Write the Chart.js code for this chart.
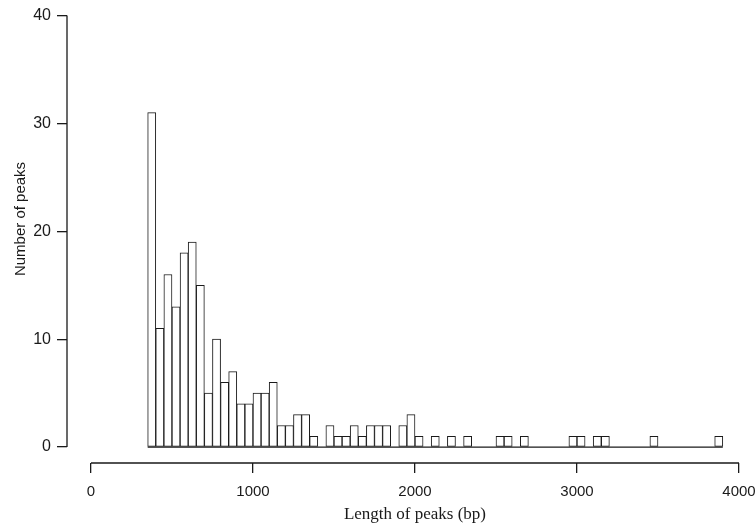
<!DOCTYPE html>
<html>
<head>
<meta charset="utf-8">
<script src="https://cdn.jsdelivr.net/npm/chart.js@4.4.1/dist/chart.umd.min.js"></script>
<style>
  html, body { margin: 0; padding: 0; background: #fff; }
  #wrap { position: relative; width: 756px; height: 528px; }
</style>
</head>
<body>
<div id="wrap"><canvas id="hist"></canvas></div>
<script>
// histogram bins: 50 bp wide, first bin starts at 350 bp
const binStart = 350;
const binWidth = 50;
const peakCounts = [
  31, 11, 16, 13, 18, 19, 15, 5, 10, 6,
  7, 4, 4, 5, 5, 6, 2, 2, 3, 3,
  1, 0, 2, 1, 1, 2, 1, 2, 2, 2,
  0, 2, 3, 1, 0, 1, 0, 1, 0, 1,
  0, 0, 0, 1, 1, 0, 1, 0, 0, 0,
  0, 0, 1, 1, 0, 1, 1, 0, 0, 0,
  0, 0, 1, 0, 0, 0, 0, 0, 0, 0,
  1
];
const xTicks = [0, 1000, 2000, 3000, 4000];
const yTicks = [0, 10, 20, 30, 40];

const ink = '#1a1a1a';
const binEnd = binStart + binWidth * peakCounts.length;

// R style detached axes + titles
const rAxes = {
  id: 'rAxes',
  afterDraw(chart) {
    const { ctx, chartArea, scales: { x, y } } = chart;
    ctx.save();
    ctx.strokeStyle = ink;
    ctx.lineWidth = 1.3;
    ctx.beginPath();
    ctx.moveTo(chartArea.left, y.getPixelForValue(yTicks[0]));
    ctx.lineTo(chartArea.left, y.getPixelForValue(yTicks[yTicks.length - 1]));
    ctx.moveTo(x.getPixelForValue(xTicks[0]), chartArea.bottom);
    ctx.lineTo(x.getPixelForValue(xTicks[xTicks.length - 1]), chartArea.bottom);
    ctx.stroke();

    ctx.fillStyle = ink;
    ctx.textAlign = 'center';
    ctx.textBaseline = 'middle';
    ctx.font = '17px "Liberation Serif", "Times New Roman", serif';
    ctx.fillText('Length of peaks (bp)', x.getPixelForValue(2000), 515);

    ctx.translate(21, 219);
    ctx.rotate(-Math.PI / 2);
    ctx.font = '15px "Liberation Sans", Arial, sans-serif';
    ctx.fillText('Number of peaks', 0, 0);
    ctx.restore();
  }
};

new Chart(document.getElementById('hist'), {
  data: {
    datasets: [
      {
        type: 'bar',
        data: peakCounts.map((c, i) => ({ x: binStart + binWidth * (i + 0.5), y: c })),
        backgroundColor: '#fff',
        borderColor: ink,
        borderWidth: 1,
        borderSkipped: false,
        barPercentage: 1,
        categoryPercentage: 1,
        grouped: false
      },
      {
        type: 'line',
        data: [{ x: binStart, y: 0 }, { x: binEnd, y: 0 }],
        borderColor: ink,
        borderWidth: 1.3,
        pointRadius: 0
      }
    ]
  },
  options: {
    responsive: true,
    maintainAspectRatio: false,
    animation: false,
    layout: { padding: { top: 14, right: 17, left: 0, bottom: 0 } },
    plugins: { legend: { display: false }, tooltip: { enabled: false } },
    scales: {
      x: {
        type: 'linear',
        offset: false,
        min: -148,
        max: 4000,
        afterFit: s => { s.height = 65; s.paddingLeft = 0; s.paddingRight = 0; },
        afterBuildTicks: s => { s.ticks = xTicks.map(v => ({ value: v })); },
        border: { display: false },
        grid: { offset: false, drawOnChartArea: false, drawTicks: true, tickLength: 10, color: ink, lineWidth: 1.3 },
        ticks: {
          padding: 10,
          maxRotation: 0,
          color: ink,
          font: { family: '"Liberation Sans", Arial, sans-serif', size: 15 },
          callback: v => String(v)
        }
      },
      y: {
        min: -1.478,
        max: 40,
        afterFit: s => { s.width = 67; },
        afterBuildTicks: s => { s.ticks = yTicks.map(v => ({ value: v })); },
        border: { display: false },
        grid: { drawOnChartArea: false, drawTicks: true, tickLength: 10, color: ink, lineWidth: 1.3 },
        ticks: {
          padding: 6,
          color: ink,
          font: { family: '"Liberation Sans", Arial, sans-serif', size: 16 },
          callback: v => String(v)
        }
      }
    }
  },
  plugins: [rAxes]
});
</script>
</body>
</html>
